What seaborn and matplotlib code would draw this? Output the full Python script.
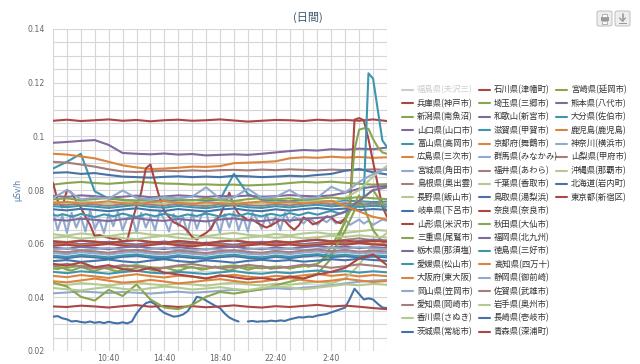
import numpy as np
import pandas as pd
import seaborn as sns
import matplotlib
matplotlib.use("Agg")
import matplotlib.pyplot as plt
from matplotlib.lines import Line2D
from matplotlib.patches import FancyBboxPatch, Rectangle

# time axis: hours after 6:40
t_hour = list(range(25))
t_20min = [k / 3 for k in range(73)]
xtick_pos = [4, 8, 12, 16, 20]
xtick_labels = ["10:40", "14:40", "18:40", "22:40", "2:40"]
ytick_pos = [0.02, 0.04, 0.06, 0.08, 0.10, 0.12, 0.14]
ytick_labels = ["0.02", "0.04", "0.06", "0.08", "0.1", "0.12", "0.14"]

labels = [
    "福島県(夫沢三)", "兵庫県(神戸市)", "新潟県(南魚沼)", "山口県(山口市)", "富山県(高岡市)",
    "広島県(三次市)", "宮城県(角田市)", "島根県(奥出雲)", "長野県(飯山市)", "岐阜県(下呂市)",
    "山形県(米沢市)", "三重県(尾鷲市)", "栃木県(那須塩)", "愛媛県(松山市)", "大阪府(東大阪)",
    "岡山県(笠岡市)", "愛知県(岡崎市)", "香川県(さぬき)", "茨城県(常総市)",
    "石川県(津幡町)", "埼玉県(三郷市)", "和歌山(新宮市)", "滋賀県(甲賀市)", "京都府(舞鶴市)",
    "群馬県(みなかみ)", "福井県(あわら)", "千葉県(香取市)", "鳥取県(湯梨浜)", "奈良県(奈良市)",
    "秋田県(大仙市)", "福岡県(北九州)", "徳島県(三好市)", "高知県(四万十)", "静岡県(御前崎)",
    "佐賀県(武雄市)", "岩手県(奥州市)", "長崎県(壱岐市)", "青森県(深浦町)",
    "宮崎県(延岡市)", "熊本県(八代市)", "大分県(佐伯市)", "鹿児島(鹿児島)", "神奈川(横浜市)",
    "山梨県(甲府市)", "沖縄県(那覇市)", "北海道(岩内町)", "東京都(新宿区)",
]

palette = ["#4572A7", "#AA4643", "#89A54E", "#80699B", "#3D96AE",
           "#DB843D", "#92A8CD", "#A47D7C", "#B5CA92"]

# --- hourly series (µSv/h) ---
hyogo = [0.1058, 0.1062, 0.1057, 0.1060, 0.1063, 0.1058, 0.1061, 0.1056, 0.1060, 0.1062, 0.1058, 0.1060, 0.1063,
         0.1059, 0.1055, 0.1058, 0.1061, 0.1060, 0.1057, 0.1062, 0.1059, 0.1061, 0.1058, 0.1063, 0.1057]
niigata = [0.0820, 0.0826, 0.0830, 0.0826, 0.0823, 0.0827, 0.0831, 0.0828, 0.0824, 0.0823, 0.0820, 0.0821, 0.0819,
           0.0820, 0.0817, 0.0819, 0.0821, 0.0826, 0.0830, 0.0828, 0.0831, 0.0827, 0.0823, 0.0820, 0.0822]
yamaguchi = [0.0976, 0.0979, 0.0983, 0.0986, 0.0968, 0.0938, 0.0935, 0.0933, 0.0936, 0.0932, 0.0934, 0.0929, 0.0931,
             0.0933, 0.0931, 0.0935, 0.0940, 0.0945, 0.0949, 0.0947, 0.0952, 0.0950, 0.0954, 0.0952, 0.0958]
toyama = [0.0880, 0.0905, 0.0935, 0.0795, 0.0768, 0.0763, 0.0760, 0.0757, 0.0762, 0.0759, 0.0763, 0.0760, 0.0764,
          0.0860, 0.0785, 0.0763, 0.0760, 0.0758, 0.0762, 0.0759, 0.0757, 0.0761, 0.0758, 0.0755, 0.0757]
hiroshima = [0.0935, 0.0932, 0.0925, 0.0918, 0.0905, 0.0892, 0.0884, 0.0878, 0.0880, 0.0883, 0.0887, 0.0886, 0.0889,
             0.0900, 0.0902, 0.0904, 0.0907, 0.0918, 0.0922, 0.0920, 0.0924, 0.0921, 0.0923, 0.0920, 0.0922]
shimane = [0.0905, 0.0902, 0.0895, 0.0887, 0.0877, 0.0869, 0.0867, 0.0869, 0.0872, 0.0870, 0.0873, 0.0871, 0.0874,
           0.0875, 0.0873, 0.0876, 0.0874, 0.0877, 0.0875, 0.0873, 0.0876, 0.0874, 0.0875, 0.0877, 0.0875]
nagano = [0.0635, 0.0630, 0.0638, 0.0633, 0.0628, 0.0636, 0.0641, 0.0634, 0.0630, 0.0637, 0.0632, 0.0628, 0.0635,
          0.0640, 0.0633, 0.0629, 0.0636, 0.0631, 0.0638, 0.0642, 0.0635, 0.0640, 0.0646, 0.0652, 0.0648]
gifu = [0.0864, 0.0866, 0.0860, 0.0863, 0.0856, 0.0850, 0.0848, 0.0846, 0.0849, 0.0851, 0.0848, 0.0850, 0.0848,
        0.0853, 0.0851, 0.0848, 0.0850, 0.0853, 0.0851, 0.0856, 0.0860, 0.0872, 0.0878, 0.0866, 0.0858]
tochigi = [0.0778, 0.0774, 0.0780, 0.0777, 0.0772, 0.0775, 0.0779, 0.0773, 0.0776, 0.0780, 0.0777, 0.0774, 0.0778,
           0.0776, 0.0779, 0.0775, 0.0777, 0.0781, 0.0778, 0.0776, 0.0780, 0.0790, 0.0805, 0.0812, 0.0815]
osaka = [0.0480, 0.0475, 0.0483, 0.0478, 0.0472, 0.0480, 0.0486, 0.0479, 0.0474, 0.0481, 0.0477, 0.0471, 0.0479,
         0.0484, 0.0477, 0.0473, 0.0480, 0.0476, 0.0482, 0.0487, 0.0480, 0.0485, 0.0478, 0.0483, 0.0479]
okayama = [0.0415, 0.0418, 0.0422, 0.0419, 0.0416, 0.0420, 0.0417, 0.0414, 0.0418, 0.0421, 0.0417, 0.0420, 0.0424,
           0.0428, 0.0425, 0.0430, 0.0434, 0.0431, 0.0436, 0.0440, 0.0445, 0.0452, 0.0458, 0.0462, 0.0465]
aichi = [0.0610, 0.0606, 0.0612, 0.0608, 0.0603, 0.0609, 0.0614, 0.0607, 0.0604, 0.0610, 0.0606, 0.0601, 0.0608,
         0.0613, 0.0606, 0.0602, 0.0609, 0.0605, 0.0611, 0.0616, 0.0609, 0.0614, 0.0620, 0.0612, 0.0608]
kagawa = [0.0450, 0.0446, 0.0453, 0.0449, 0.0444, 0.0451, 0.0456, 0.0449, 0.0445, 0.0452, 0.0448, 0.0443, 0.0450,
          0.0455, 0.0448, 0.0444, 0.0451, 0.0447, 0.0453, 0.0458, 0.0452, 0.0470, 0.0520, 0.0600, 0.0640]
ishikawa = [0.0366, 0.0364, 0.0369, 0.0366, 0.0362, 0.0367, 0.0371, 0.0365, 0.0368, 0.0364, 0.0367, 0.0363, 0.0366,
            0.0370, 0.0365, 0.0362, 0.0367, 0.0364, 0.0368, 0.0372, 0.0366, 0.0369, 0.0365, 0.0360, 0.0356]
saitama = [0.0455, 0.0440, 0.0402, 0.0388, 0.0428, 0.0405, 0.0448, 0.0392, 0.0362, 0.0356, 0.0372, 0.0402, 0.0420,
           0.0414, 0.0422, 0.0430, 0.0445, 0.0458, 0.0470, 0.0488, 0.0545, 0.0690, 0.0780, 0.0650, 0.0585]
wakayama = [0.0600, 0.0604, 0.0598, 0.0602, 0.0607, 0.0601, 0.0597, 0.0603, 0.0608, 0.0602, 0.0598, 0.0604, 0.0600,
            0.0596, 0.0602, 0.0607, 0.0601, 0.0605, 0.0599, 0.0603, 0.0608, 0.0604, 0.0610, 0.0615, 0.0612]
shiga = [0.0495, 0.0490, 0.0497, 0.0493, 0.0488, 0.0494, 0.0499, 0.0492, 0.0489, 0.0495, 0.0491, 0.0487, 0.0493,
         0.0498, 0.0491, 0.0488, 0.0494, 0.0490, 0.0496, 0.0500, 0.0494, 0.0498, 0.0492, 0.0497, 0.0493]
kyoto = [0.0595, 0.0600, 0.0593, 0.0597, 0.0602, 0.0596, 0.0591, 0.0598, 0.0603, 0.0597, 0.0593, 0.0599, 0.0595,
         0.0590, 0.0597, 0.0601, 0.0596, 0.0600, 0.0594, 0.0598, 0.0603, 0.0599, 0.0605, 0.0600, 0.0597]
gunma = [0.0565, 0.0561, 0.0568, 0.0564, 0.0559, 0.0566, 0.0570, 0.0563, 0.0560, 0.0567, 0.0562, 0.0558, 0.0565,
         0.0569, 0.0562, 0.0559, 0.0566, 0.0561, 0.0567, 0.0571, 0.0565, 0.0569, 0.0563, 0.0567, 0.0564]
fukui = [0.0748, 0.0744, 0.0750, 0.0746, 0.0741, 0.0747, 0.0752, 0.0745, 0.0742, 0.0749, 0.0744, 0.0740, 0.0747,
         0.0751, 0.0744, 0.0741, 0.0748, 0.0743, 0.0749, 0.0753, 0.0747, 0.0751, 0.0745, 0.0749, 0.0746]
chiba = [0.0755, 0.0751, 0.0757, 0.0753, 0.0748, 0.0754, 0.0759, 0.0752, 0.0749, 0.0756, 0.0751, 0.0747, 0.0754,
         0.0758, 0.0751, 0.0748, 0.0755, 0.0750, 0.0756, 0.0760, 0.0754, 0.0770, 0.0800, 0.0850, 0.0890]
tottori = [0.0550, 0.0546, 0.0553, 0.0549, 0.0544, 0.0551, 0.0555, 0.0548, 0.0545, 0.0552, 0.0547, 0.0543, 0.0550,
           0.0554, 0.0547, 0.0544, 0.0551, 0.0546, 0.0552, 0.0556, 0.0550, 0.0554, 0.0548, 0.0552, 0.0549]
nara = [0.0592, 0.0596, 0.0590, 0.0594, 0.0599, 0.0593, 0.0588, 0.0595, 0.0600, 0.0594, 0.0590, 0.0596, 0.0592,
        0.0587, 0.0594, 0.0598, 0.0593, 0.0597, 0.0591, 0.0595, 0.0600, 0.0596, 0.0602, 0.0597, 0.0594]
akita = [0.0515, 0.0510, 0.0518, 0.0513, 0.0508, 0.0515, 0.0520, 0.0512, 0.0509, 0.0516, 0.0511, 0.0507, 0.0514,
         0.0519, 0.0512, 0.0508, 0.0515, 0.0510, 0.0516, 0.0525, 0.0560, 0.0650, 0.0760, 0.0800, 0.0720]
fukuoka = [0.0585, 0.0581, 0.0588, 0.0584, 0.0579, 0.0586, 0.0590, 0.0583, 0.0580, 0.0587, 0.0582, 0.0578, 0.0585,
           0.0589, 0.0582, 0.0579, 0.0586, 0.0581, 0.0587, 0.0591, 0.0585, 0.0589, 0.0583, 0.0587, 0.0584]
tokushima = [0.0555, 0.0551, 0.0558, 0.0554, 0.0549, 0.0556, 0.0560, 0.0553, 0.0550, 0.0557, 0.0552, 0.0548, 0.0555,
             0.0559, 0.0552, 0.0549, 0.0556, 0.0551, 0.0557, 0.0561, 0.0555, 0.0559, 0.0553, 0.0557, 0.0554]
kochi = [0.0460, 0.0456, 0.0463, 0.0470, 0.0462, 0.0455, 0.0458, 0.0465, 0.0459, 0.0452, 0.0457, 0.0463, 0.0468,
         0.0461, 0.0455, 0.0459, 0.0466, 0.0472, 0.0464, 0.0458, 0.0462, 0.0469, 0.0463, 0.0457, 0.0461]
shizuoka = [0.0578, 0.0582, 0.0575, 0.0579, 0.0584, 0.0577, 0.0573, 0.0580, 0.0585, 0.0578, 0.0574, 0.0581, 0.0577,
            0.0572, 0.0579, 0.0583, 0.0578, 0.0582, 0.0576, 0.0580, 0.0585, 0.0581, 0.0587, 0.0582, 0.0579]
saga = [0.0518, 0.0525, 0.0515, 0.0508, 0.0512, 0.0520, 0.0514, 0.0506, 0.0511, 0.0519, 0.0524, 0.0516, 0.0509,
        0.0513, 0.0521, 0.0515, 0.0508, 0.0514, 0.0522, 0.0517, 0.0510, 0.0516, 0.0523, 0.0518, 0.0512]
iwate = [0.0435, 0.0430, 0.0426, 0.0433, 0.0439, 0.0432, 0.0427, 0.0434, 0.0440, 0.0436, 0.0429, 0.0433, 0.0438,
         0.0431, 0.0427, 0.0435, 0.0441, 0.0437, 0.0430, 0.0436, 0.0442, 0.0448, 0.0445, 0.0450, 0.0447]
nagasaki = [0.0728, 0.0724, 0.0730, 0.0726, 0.0721, 0.0727, 0.0732, 0.0725, 0.0722, 0.0729, 0.0724, 0.0720, 0.0727,
            0.0731, 0.0724, 0.0721, 0.0728, 0.0723, 0.0729, 0.0733, 0.0727, 0.0731, 0.0725, 0.0729, 0.0726]
aomori = [0.0608, 0.0604, 0.0611, 0.0607, 0.0602, 0.0609, 0.0613, 0.0606, 0.0603, 0.0610, 0.0605, 0.0601, 0.0608,
          0.0612, 0.0605, 0.0602, 0.0609, 0.0604, 0.0610, 0.0614, 0.0608, 0.0612, 0.0606, 0.0610, 0.0607]
miyazaki = [0.0765, 0.0769, 0.0762, 0.0766, 0.0771, 0.0764, 0.0760, 0.0767, 0.0772, 0.0765, 0.0761, 0.0768, 0.0764,
            0.0759, 0.0766, 0.0770, 0.0765, 0.0769, 0.0763, 0.0767, 0.0772, 0.0768, 0.0774, 0.0769, 0.0766]
kumamoto = [0.0690, 0.0686, 0.0693, 0.0689, 0.0684, 0.0691, 0.0695, 0.0688, 0.0685, 0.0692, 0.0687, 0.0683, 0.0690,
            0.0694, 0.0687, 0.0684, 0.0691, 0.0686, 0.0692, 0.0696, 0.0700, 0.0720, 0.0760, 0.0800, 0.0810]
oita = [0.0740, 0.0736, 0.0742, 0.0738, 0.0733, 0.0739, 0.0744, 0.0737, 0.0734, 0.0741, 0.0736, 0.0732, 0.0739,
        0.0743, 0.0736, 0.0733, 0.0740, 0.0735, 0.0741, 0.0745, 0.0739, 0.0743, 0.0737, 0.0741, 0.0738]
kagoshima = [0.0752, 0.0756, 0.0749, 0.0753, 0.0758, 0.0751, 0.0747, 0.0754, 0.0759, 0.0752, 0.0748, 0.0755, 0.0751,
             0.0746, 0.0753, 0.0757, 0.0752, 0.0756, 0.0750, 0.0754, 0.0759, 0.0740, 0.0720, 0.0700, 0.0690]
kanagawa = [0.0770, 0.0800, 0.0765, 0.0772, 0.0768, 0.0798, 0.0770, 0.0766, 0.0773, 0.0769, 0.0775, 0.0810, 0.0768,
            0.0772, 0.0805, 0.0770, 0.0774, 0.0800, 0.0768, 0.0772, 0.0812, 0.0790, 0.0830, 0.0860, 0.0880]
yamanashi = [0.0572, 0.0568, 0.0575, 0.0571, 0.0566, 0.0573, 0.0577, 0.0570, 0.0567, 0.0574, 0.0569, 0.0565, 0.0572,
             0.0576, 0.0569, 0.0566, 0.0573, 0.0568, 0.0574, 0.0578, 0.0572, 0.0576, 0.0570, 0.0574, 0.0571]
okinawa = [0.0622, 0.0626, 0.0619, 0.0623, 0.0628, 0.0621, 0.0617, 0.0624, 0.0629, 0.0622, 0.0618, 0.0625, 0.0621,
           0.0616, 0.0623, 0.0627, 0.0622, 0.0626, 0.0620, 0.0624, 0.0629, 0.0625, 0.0631, 0.0626, 0.0623]
hokkaido = [0.0535, 0.0539, 0.0532, 0.0536, 0.0541, 0.0534, 0.0530, 0.0537, 0.0542, 0.0535, 0.0531, 0.0538, 0.0534,
            0.0529, 0.0536, 0.0540, 0.0535, 0.0539, 0.0533, 0.0537, 0.0542, 0.0538, 0.0544, 0.0539, 0.0536]
tokyo = [0.0525, 0.0518, 0.0530, 0.0512, 0.0520, 0.0505, 0.0498, 0.0510, 0.0492, 0.0485, 0.0478, 0.0470, 0.0482,
         0.0475, 0.0468, 0.0472, 0.0465, 0.0478, 0.0470, 0.0485, 0.0495, 0.0510, 0.0545, 0.0560, 0.0520]

# --- 20-minute series ---
yamagata = [0.0827, 0.0760, 0.0735, 0.0800, 0.0790, 0.0760, 0.0735, 0.0700, 0.0670, 0.0628, 0.0632, 0.0626,
            0.0622, 0.0618, 0.0620, 0.0608, 0.0612, 0.0680, 0.0740, 0.0790, 0.0880, 0.0895, 0.0830, 0.0770,
            0.0720, 0.0700, 0.0680, 0.0672, 0.0663, 0.0648, 0.0625, 0.0615, 0.0630, 0.0640, 0.0655, 0.0685,
            0.0705, 0.0745, 0.0790, 0.0740, 0.0712, 0.0700, 0.0688, 0.0690, 0.0678, 0.0668, 0.0660, 0.0668,
            0.0678, 0.0688, 0.0685, 0.0665, 0.0652, 0.0668, 0.0698, 0.0688, 0.0672, 0.0678, 0.0688, 0.0702,
            0.0698, 0.0682, 0.0676, 0.0695, 0.0728, 0.1062, 0.1068, 0.1060, 0.0990, 0.0905, 0.0820, 0.0738,
            0.0700]
mie = [0.0508, 0.0505, 0.0510, 0.0503, 0.0500, 0.0506, 0.0512, 0.0508, 0.0502, 0.0498, 0.0504, 0.0509,
       0.0506, 0.0500, 0.0497, 0.0503, 0.0508, 0.0505, 0.0510, 0.0514, 0.0508, 0.0503, 0.0500, 0.0505,
       0.0511, 0.0507, 0.0502, 0.0499, 0.0504, 0.0510, 0.0513, 0.0508, 0.0503, 0.0506, 0.0511, 0.0515,
       0.0509, 0.0504, 0.0500, 0.0506, 0.0512, 0.0508, 0.0503, 0.0507, 0.0513, 0.0517, 0.0511, 0.0506,
       0.0510, 0.0515, 0.0512, 0.0507, 0.0511, 0.0516, 0.0520, 0.0514, 0.0518, 0.0525, 0.0540, 0.0565,
       0.0590, 0.0620, 0.0650, 0.0680, 0.0760, 0.0950, 0.1025, 0.1030, 0.1028, 0.0990, 0.0960, 0.0940,
       0.0935]
ehime = [0.0708, 0.0704, 0.0710, 0.0706, 0.0701, 0.0705, 0.0711, 0.0707, 0.0703, 0.0699, 0.0704, 0.0709,
         0.0706, 0.0702, 0.0707, 0.0712, 0.0708, 0.0703, 0.0700, 0.0705, 0.0710, 0.0706, 0.0702, 0.0707,
         0.0711, 0.0708, 0.0704, 0.0700, 0.0705, 0.0709, 0.0706, 0.0703, 0.0708, 0.0712, 0.0709, 0.0705,
         0.0701, 0.0706, 0.0710, 0.0707, 0.0703, 0.0708, 0.0713, 0.0709, 0.0705, 0.0702, 0.0707, 0.0711,
         0.0708, 0.0704, 0.0709, 0.0714, 0.0710, 0.0706, 0.0711, 0.0716, 0.0712, 0.0708, 0.0713, 0.0718,
         0.0722, 0.0716, 0.0712, 0.0718, 0.0725, 0.0732, 0.0745, 0.0780, 0.1235, 0.1215, 0.1100, 0.0985,
         0.0960]
miyagi = [0.0720, 0.0650, 0.0705, 0.0640, 0.0715, 0.0660, 0.0700, 0.0645, 0.0725, 0.0655, 0.0690, 0.0640,
          0.0710, 0.0665, 0.0720, 0.0650, 0.0695, 0.0705, 0.0640, 0.0715, 0.0660, 0.0700, 0.0650, 0.0720,
          0.0690, 0.0645, 0.0710, 0.0665, 0.0700, 0.0640, 0.0715, 0.0655, 0.0705, 0.0720, 0.0650, 0.0695,
          0.0640, 0.0710, 0.0660, 0.0720, 0.0650, 0.0700, 0.0645, 0.0715, 0.0690, 0.0655, 0.0710, 0.0665,
          0.0700, 0.0650, 0.0715, 0.0680, 0.0700, 0.0690, 0.0675, 0.0695, 0.0685, 0.0670, 0.0690, 0.0680,
          0.0695, 0.0675, 0.0685, 0.0690, 0.0670, 0.0680, 0.0690, 0.0675, 0.0685, 0.0670, 0.0680, 0.0690,
          0.0685]
ibaraki = [0.0328, 0.0330, 0.0322, 0.0318, 0.0310, 0.0312, 0.0308, 0.0306, 0.0310, 0.0305, 0.0308, 0.0304,
           0.0309, 0.0305, 0.0303, 0.0307, 0.0303, 0.0310, 0.0340, 0.0362, 0.0378, 0.0384, 0.0375, 0.0355,
           0.0342, 0.0335, 0.0328, 0.0330, 0.0336, 0.0348, 0.0372, 0.0402, 0.0398, 0.0388, 0.0378, 0.0368,
           0.0360, 0.0340, 0.0325, 0.0316, 0.0310, np.nan, 0.0310, 0.0312, 0.0309, 0.0311, 0.0310, 0.0313,
           0.0311, 0.0314, 0.0312, 0.0318, 0.0322, 0.0326, 0.0325, 0.0328, 0.0327, 0.0332, 0.0335, 0.0338,
           0.0344, 0.0350, 0.0356, 0.0362, 0.0395, 0.0432, 0.0412, 0.0392, 0.0396, 0.0392, 0.0376, 0.0362,
           0.0360]

# series in legend order (福島 is hidden -> None)
series_values = [
    None, hyogo, niigata, yamaguchi, toyama, hiroshima, miyagi, shimane, nagano, gifu,
    yamagata, mie, tochigi, ehime, osaka, okayama, aichi, kagawa, ibaraki,
    ishikawa, saitama, wakayama, shiga, kyoto, gunma, fukui, chiba, tottori, nara,
    akita, fukuoka, tokushima, kochi, shizuoka, saga, iwate, nagasaki, aomori,
    miyazaki, kumamoto, oita, kagoshima, kanagawa, yamanashi, okinawa, hokkaido, tokyo,
]

# long-form table, split into segments at gaps
rows = []
seg_colors = {}
seg_order = []
for i, (name, vals) in enumerate(zip(labels, series_values)):
    if vals is None:
        continue
    times = t_hour if len(vals) == len(t_hour) else t_20min
    seg = 0
    key = f"{name}#{seg}"
    for t, v in zip(times, vals):
        if np.isnan(v):
            seg += 1
            key = f"{name}#{seg}"
            continue
        if key not in seg_colors:
            seg_colors[key] = palette[i % 9]
            seg_order.append(key)
        rows.append({"t": t, "v": v, "seg": key})
df = pd.DataFrame(rows)

sns.set_theme(style="white")
plt.rcParams["font.family"] = ["DejaVu Sans"]
jp_font = ["Noto Sans CJK JP", "DejaVu Sans"]

fig = plt.figure(figsize=(6.4, 3.64), dpi=100)
ax = fig.add_axes([53 / 640, 1 - 351 / 364, 334 / 640, 322 / 364])

sns.lineplot(data=df, x="t", y="v", hue="seg", hue_order=seg_order, palette=seg_colors,
             estimator=None, sort=False, legend=False, linewidth=1.5, ax=ax)

ax.set_xlim(0, 24)
ax.set_ylim(0.02, 0.14)
ax.set_xticks(xtick_pos)
ax.set_xticklabels(xtick_labels)
ax.set_yticks(ytick_pos)
ax.set_yticklabels(ytick_labels)
ax.set_xticks(t_hour, minor=True)
ax.set_yticks(np.arange(0.02, 0.1401, 0.005), minor=True)
ax.grid(which="both", color="#d6d6d6", linewidth=0.8)
ax.set_axisbelow(True)
ax.tick_params(which="both", length=0, labelsize=5.6, colors="#666666")
ax.tick_params(axis="y", pad=6)
ax.tick_params(axis="x", pad=2)
ax.set_xlabel("")
ax.set_ylabel("")
for s in ax.spines.values():
    s.set_visible(False)

fig.text(18 / 640, 1 - 190 / 364, "μSv/h", rotation=90, ha="center", va="center",
         fontsize=5.6, color="#4d759e")
fig.text(308 / 640, 1 - 17 / 364, "(日間)", ha="center", va="center",
         fontsize=8, color="#3E576F", family=jp_font)

# legend: 3 columns, 19 rows, column-major
col_x = [402, 479, 556]
row_y0, row_dy = 90, 13.42
for i, name in enumerate(labels):
    c, r = divmod(i, 19)
    x = col_x[c]
    y = row_y0 + r * row_dy
    hidden = i == 0
    color = "#cccccc" if hidden else palette[i % 9]
    fig.add_artist(Line2D([x / 640, (x + 11) / 640], [1 - y / 364, 1 - y / 364],
                          transform=fig.transFigure, color=color, linewidth=1.5))
    fig.text((x + 15) / 640, 1 - y / 364, name, ha="left", va="center", fontsize=6,
             color="#cccccc" if hidden else "#333333", family=jp_font)

# export buttons (top right)
for bx in (597, 615):
    fig.add_artist(FancyBboxPatch((bx / 640, 1 - 26 / 364), 15 / 640, 15 / 364,
                                  boxstyle="round,pad=0,rounding_size=0.004",
                                  transform=fig.transFigure, facecolor="#eeeeee",
                                  edgecolor="#b5b5b5", linewidth=0.6))
# printer glyph
fig.add_artist(Rectangle((600.5 / 640, 1 - 21 / 364), 8 / 640, 4 / 364, transform=fig.transFigure,
                         facecolor="#9a9a9a", edgecolor="none"))
fig.add_artist(Rectangle((602 / 640, 1 - 16.5 / 364), 5 / 640, 3 / 364, transform=fig.transFigure,
                         facecolor="#ffffff", edgecolor="#9a9a9a", linewidth=0.5))
fig.add_artist(Rectangle((602 / 640, 1 - 24 / 364), 5 / 640, 3 / 364, transform=fig.transFigure,
                         facecolor="#ffffff", edgecolor="#9a9a9a", linewidth=0.5))
# download glyph
fig.add_artist(Line2D([622.5 / 640, 622.5 / 640], [1 - 14 / 364, 1 - 21 / 364],
                      transform=fig.transFigure, color="#9a9a9a", linewidth=1.2))
fig.add_artist(Line2D([619.5 / 640, 622.5 / 640, 625.5 / 640], [1 - 18 / 364, 1 - 21 / 364, 1 - 18 / 364],
                      transform=fig.transFigure, color="#9a9a9a", linewidth=1.0))
fig.add_artist(Rectangle((618.5 / 640, 1 - 24 / 364), 8 / 640, 1.5 / 364, transform=fig.transFigure,
                         facecolor="#9a9a9a", edgecolor="none"))

fig.savefig("out.png", dpi=100)
